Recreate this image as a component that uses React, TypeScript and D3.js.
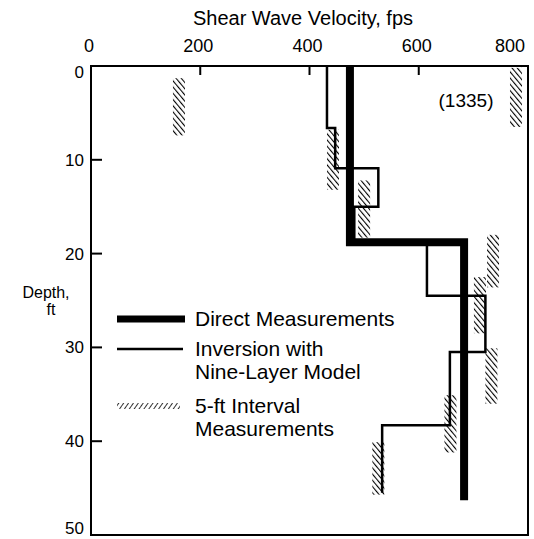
import React, { useEffect, useRef } from 'react';
import * as d3 from 'd3';

// velocity ticks (fps) and depth ticks (ft)
const velocityTicks = [0, 200, 400, 600, 800];
const depthTicks = [0, 10, 20, 30, 40, 50];

// direct measurements: [top depth, bottom depth, velocity]
const directLayers = [
  [0, 18.8, 474],
  [18.8, 46.3, 683],
];

// inversion with nine-layer model: [top depth, bottom depth, velocity]
const inversionLayers = [
  [0, 6.6, 432],
  [6.6, 10.9, 447],
  [10.9, 15.0, 526],
  [15.0, 18.8, 482],
  [18.8, 24.5, 615],
  [24.5, 30.5, 722],
  [30.5, 38.3, 657],
  [38.3, 45.5, 533],
];

// 5-ft interval measurements: [top depth, bottom depth, velocity]
const intervalBars = [
  [1.3, 7.4, 161],
  [0.2, 6.5, 1335],
  [6.8, 13.2, 443],
  [12.2, 18.3, 500],
  [18.0, 23.6, 736],
  [22.5, 28.5, 712],
  [30.1, 36.0, 733],
  [35.1, 41.2, 658],
  [40.1, 45.7, 526],
];

// off-scale value is drawn at the right edge
const offScaleLimit = 778;

const legendItems = [
  { kind: 'direct', lines: ['Direct  Measurements'] },
  { kind: 'inversion', lines: ['Inversion with', 'Nine-Layer Model'] },
  { kind: 'interval', lines: ['5-ft Interval', 'Measurements'] },
];

const App = () => {
  const ref = useRef<HTMLDivElement>(null);

  useEffect(() => {
    const width = 534;
    const height = 539;
    const font = '"Liberation Sans", Arial, sans-serif';

    const x = d3.scaleLinear().domain([0, 800]).range([91, 528]);
    const y = d3.scaleLinear().domain([0, 50]).range([66, 535]);

    const svg = d3
      .create('svg')
      .attr('width', width)
      .attr('height', height)
      .style('position', 'absolute')
      .style('left', 0)
      .style('top', 0)
      .style('background', '#fff')
      .attr('font-family', font);

    const defs = svg.append('defs');
    defs
      .append('pattern')
      .attr('id', 'hatch')
      .attr('patternUnits', 'userSpaceOnUse')
      .attr('width', 4)
      .attr('height', 4)
      .attr('patternTransform', 'rotate(-40)')
      .append('line')
      .attr('x1', 0)
      .attr('y1', 0)
      .attr('x2', 0)
      .attr('y2', 4)
      .attr('stroke', '#000')
      .attr('stroke-width', 2.2);
    defs
      .append('pattern')
      .attr('id', 'hatch-legend')
      .attr('patternUnits', 'userSpaceOnUse')
      .attr('width', 4)
      .attr('height', 4)
      .attr('patternTransform', 'rotate(35)')
      .append('line')
      .attr('x1', 0)
      .attr('y1', 0)
      .attr('x2', 0)
      .attr('y2', 4)
      .attr('stroke', '#000')
      .attr('stroke-width', 1.6);

    // title
    svg
      .append('text')
      .attr('x', 303)
      .attr('y', 25)
      .attr('text-anchor', 'middle')
      .attr('font-size', 20)
      .text('Shear Wave Velocity, fps');

    // top axis labels + ticks
    svg
      .selectAll('.xlab')
      .data(velocityTicks)
      .enter()
      .append('text')
      .attr('x', (d, i) => (i === velocityTicks.length - 1 ? x(d) - 18 : x(d) - 2))
      .attr('y', 52)
      .attr('text-anchor', 'middle')
      .attr('font-size', 18)
      .text((d) => d);

    svg
      .selectAll('.xtick')
      .data(velocityTicks.slice(1, -1))
      .enter()
      .append('line')
      .attr('x1', (d) => x(d))
      .attr('x2', (d) => x(d))
      .attr('y1', y(0))
      .attr('y2', y(0) + 9)
      .attr('stroke', '#000')
      .attr('stroke-width', 2);

    // left axis labels + ticks
    svg
      .selectAll('.ylab')
      .data(depthTicks)
      .enter()
      .append('text')
      .attr('x', 84)
      .attr('y', (d) => y(d) + (d === 0 ? 12 : d === 50 ? -1 : 6))
      .attr('text-anchor', 'end')
      .attr('font-size', 17)
      .text((d) => d);

    svg
      .selectAll('.ytick')
      .data(depthTicks.slice(1, -1))
      .enter()
      .append('line')
      .attr('x1', x(0))
      .attr('x2', x(0) + 11)
      .attr('y1', (d) => y(d))
      .attr('y2', (d) => y(d))
      .attr('stroke', '#000')
      .attr('stroke-width', 2);

    svg.append('text').attr('x', 46).attr('y', 298).attr('text-anchor', 'middle').attr('font-size', 16).text('Depth,');
    svg.append('text').attr('x', 51).attr('y', 315).attr('text-anchor', 'middle').attr('font-size', 16).text('ft');

    // frame
    svg
      .append('rect')
      .attr('x', x(0))
      .attr('y', y(0))
      .attr('width', x(800) - x(0))
      .attr('height', y(50) - y(0))
      .attr('fill', 'none')
      .attr('stroke', '#000')
      .attr('stroke-width', 2);

    // hatched bars
    svg
      .selectAll('.bar')
      .data(intervalBars)
      .enter()
      .append('rect')
      .attr('x', (d) => x(Math.min(d[2], offScaleLimit)) - 6)
      .attr('y', (d) => y(d[0]))
      .attr('width', 12)
      .attr('height', (d) => y(d[1]) - y(d[0]))
      .attr('fill', 'url(#hatch)');

    svg
      .append('text')
      .attr('x', 466)
      .attr('y', 107)
      .attr('text-anchor', 'middle')
      .attr('font-size', 19)
      .text('(1335)');

    const stepPoints = (layers) =>
      layers.flatMap((l) => [
        [x(l[2]), y(l[0])],
        [x(l[2]), y(l[1])],
      ]);

    const line = d3.line();

    svg
      .append('path')
      .attr('d', line(stepPoints(directLayers)))
      .attr('fill', 'none')
      .attr('stroke', '#000')
      .attr('stroke-width', 8)
      .attr('stroke-linejoin', 'miter');

    svg
      .append('path')
      .attr('d', line(stepPoints(inversionLayers)))
      .attr('fill', 'none')
      .attr('stroke', '#000')
      .attr('stroke-width', 2.5);

    // legend
    const legend = svg.append('g');
    const rowY = [319, 349, 406];
    legendItems.forEach((item, i) => {
      const yy = rowY[i];
      if (item.kind === 'direct') {
        legend.append('line').attr('x1', 117).attr('x2', 185).attr('y1', yy).attr('y2', yy).attr('stroke', '#000').attr('stroke-width', 7);
      } else if (item.kind === 'inversion') {
        legend.append('line').attr('x1', 117).attr('x2', 183).attr('y1', yy).attr('y2', yy).attr('stroke', '#000').attr('stroke-width', 2.5);
      } else {
        legend.append('rect').attr('x', 117).attr('y', yy - 3).attr('width', 63).attr('height', 6).attr('fill', 'url(#hatch-legend)');
      }
      item.lines.forEach((t, j) => {
        legend
          .append('text')
          .attr('x', 195)
          .attr('y', yy + 7 + j * 23)
          .attr('font-size', 21)
          .text(t);
      });
    });

    ref.current.innerHTML = '';
    ref.current.appendChild(svg.node());
  }, []);

  return <div ref={ref}></div>;
};

export default App;
